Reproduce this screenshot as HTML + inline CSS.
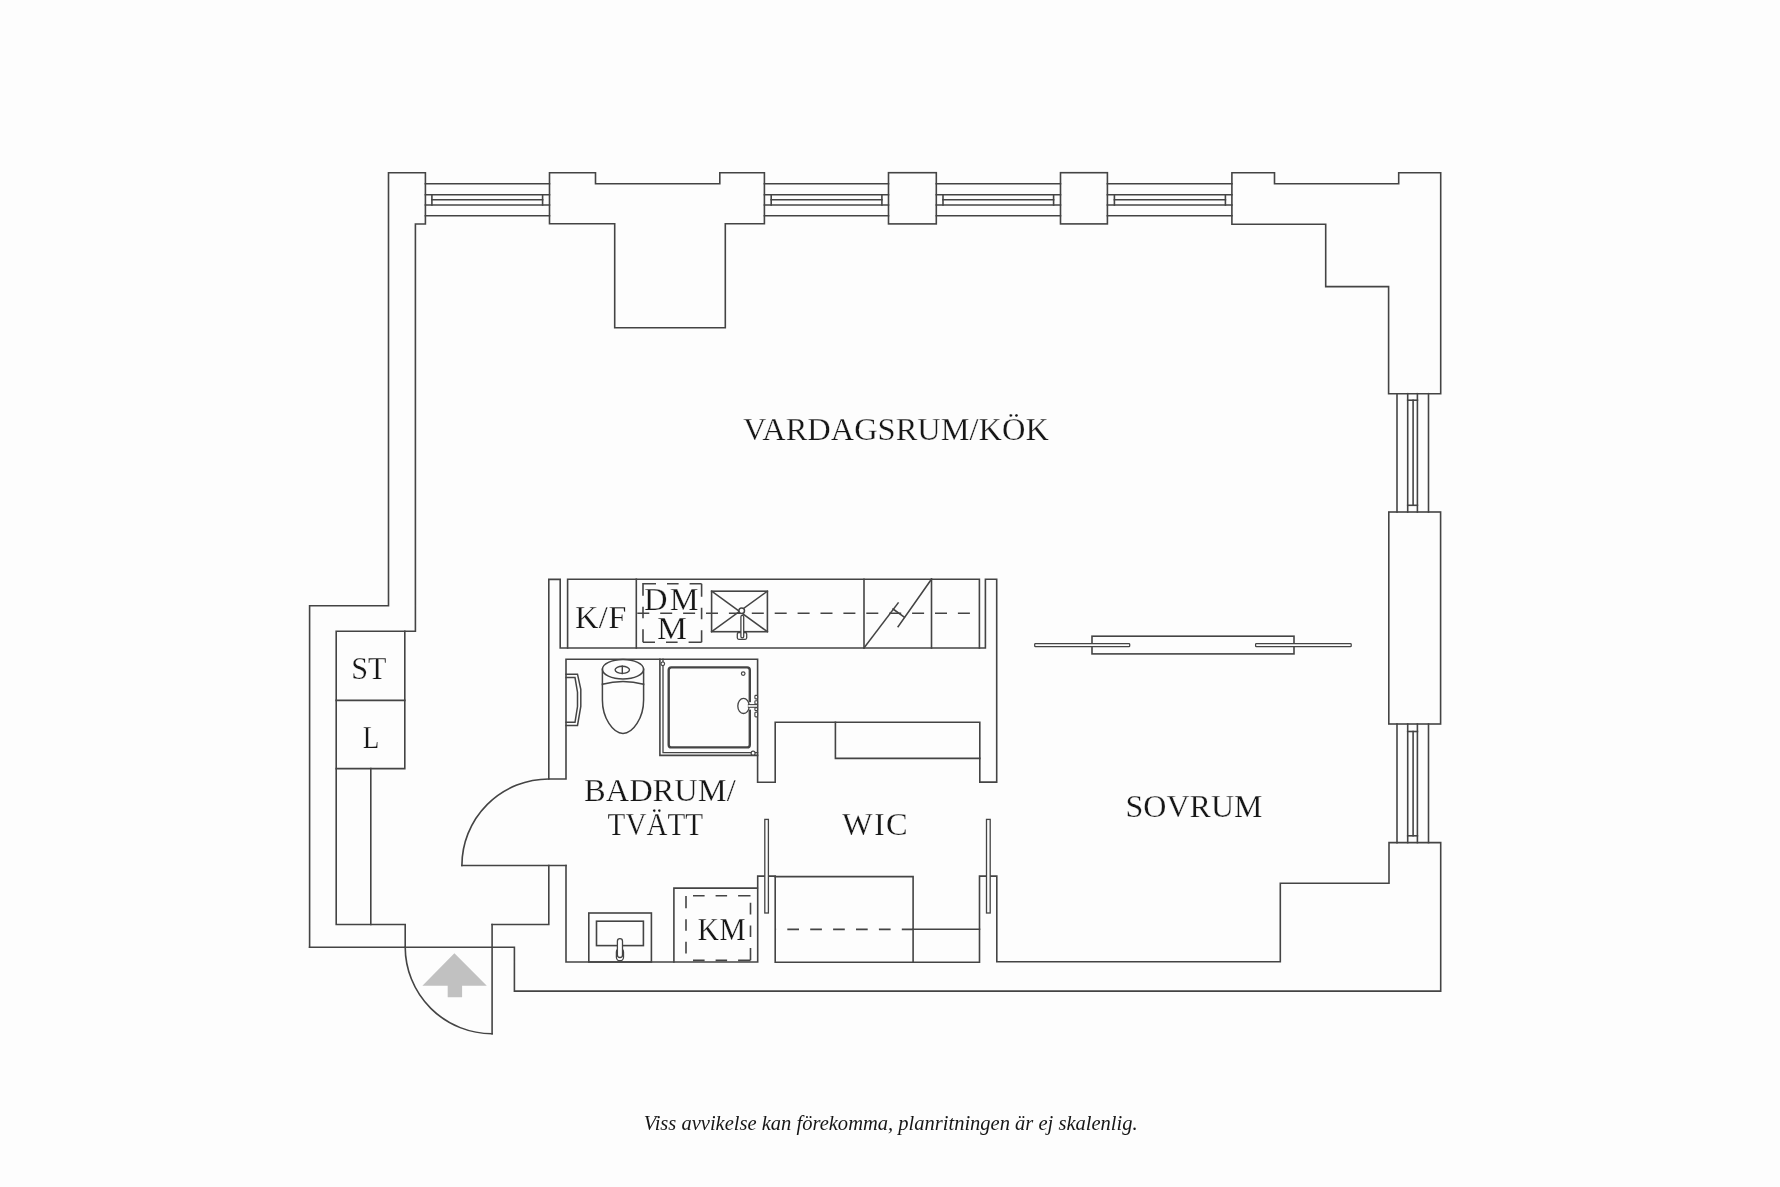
<!DOCTYPE html>
<html><head><meta charset="utf-8"><style>
html,body{margin:0;padding:0;background:#fdfdfd;}
svg{display:block;}
text{font-family:"Liberation Serif",serif;fill:#161616;stroke:#fdfdfd;stroke-width:0.25px;}
.tg{will-change:transform;}
</style></head><body>
<svg width="1780" height="1187" viewBox="0 0 1780 1187">
<rect x="0" y="0" width="1780" height="1187" fill="#fdfdfd"/>
<g stroke-linecap="square" stroke-linejoin="miter">
<path d="M405.2,947.2 L405.2,924.5 L336.2,924.5 L336.2,631.3 L415.4,631.3 L415.4,224.0 L425.4,224.0 L425.4,172.7 L388.5,172.7 L388.5,605.7 L309.6,605.7 L309.6,947.2" fill="none" stroke="#444" stroke-width="1.6" />
<line x1="336.2" y1="700.4" x2="404.8" y2="700.4" stroke="#444" stroke-width="1.6" />
<path d="M336.2,768.6 L404.8,768.6 L404.8,631.3" fill="none" stroke="#444" stroke-width="1.6" />
<line x1="370.8" y1="768.6" x2="370.8" y2="924.5" stroke="#444" stroke-width="1.6" />
<path d="M549.5,172.7 L595.5,172.7 L595.5,183.8 L719.8,183.8 L719.8,172.7 L764.4,172.7 L764.4,223.8 L725.3,223.8 L725.3,327.7 L614.7,327.7 L614.7,223.8 L549.5,223.8 Z" fill="none" stroke="#444" stroke-width="1.6" />
<rect x="888.5" y="172.7" width="47.80" height="51.20" rx="0" fill="none" stroke="#444" stroke-width="1.6" />
<rect x="1060.5" y="172.7" width="46.90" height="51.20" rx="0" fill="none" stroke="#444" stroke-width="1.6" />
<path d="M1231.9,172.7 L1274.5,172.7 L1274.5,183.8 L1398.7,183.8 L1398.7,172.7 L1440.7,172.7 L1440.7,393.7 L1388.6,393.7 L1388.6,286.6 L1325.7,286.6 L1325.7,224.2 L1231.9,224.2 Z" fill="none" stroke="#444" stroke-width="1.6" />
<line x1="425.4" y1="183.8" x2="549.5" y2="183.8" stroke="#444" stroke-width="1.6" />
<line x1="425.4" y1="215.8" x2="549.5" y2="215.8" stroke="#444" stroke-width="1.6" />
<line x1="425.4" y1="194.8" x2="549.5" y2="194.8" stroke="#444" stroke-width="1.6" />
<line x1="425.4" y1="205.0" x2="549.5" y2="205.0" stroke="#444" stroke-width="1.6" />
<line x1="431.9" y1="199.7" x2="542.6" y2="199.7" stroke="#444" stroke-width="1.6" />
<line x1="431.9" y1="194.8" x2="431.9" y2="205.0" stroke="#444" stroke-width="1.6" />
<line x1="542.6" y1="194.8" x2="542.6" y2="205.0" stroke="#444" stroke-width="1.6" />
<line x1="764.4" y1="183.8" x2="888.5" y2="183.8" stroke="#444" stroke-width="1.6" />
<line x1="764.4" y1="215.8" x2="888.5" y2="215.8" stroke="#444" stroke-width="1.6" />
<line x1="764.4" y1="194.8" x2="888.5" y2="194.8" stroke="#444" stroke-width="1.6" />
<line x1="764.4" y1="205.0" x2="888.5" y2="205.0" stroke="#444" stroke-width="1.6" />
<line x1="771.2" y1="199.7" x2="881.9" y2="199.7" stroke="#444" stroke-width="1.6" />
<line x1="771.2" y1="194.8" x2="771.2" y2="205.0" stroke="#444" stroke-width="1.6" />
<line x1="881.9" y1="194.8" x2="881.9" y2="205.0" stroke="#444" stroke-width="1.6" />
<line x1="936.3" y1="183.8" x2="1060.5" y2="183.8" stroke="#444" stroke-width="1.6" />
<line x1="936.3" y1="215.8" x2="1060.5" y2="215.8" stroke="#444" stroke-width="1.6" />
<line x1="936.3" y1="194.8" x2="1060.5" y2="194.8" stroke="#444" stroke-width="1.6" />
<line x1="936.3" y1="205.0" x2="1060.5" y2="205.0" stroke="#444" stroke-width="1.6" />
<line x1="943.0" y1="199.7" x2="1053.6" y2="199.7" stroke="#444" stroke-width="1.6" />
<line x1="943.0" y1="194.8" x2="943.0" y2="205.0" stroke="#444" stroke-width="1.6" />
<line x1="1053.6" y1="194.8" x2="1053.6" y2="205.0" stroke="#444" stroke-width="1.6" />
<line x1="1107.4" y1="183.8" x2="1231.9" y2="183.8" stroke="#444" stroke-width="1.6" />
<line x1="1107.4" y1="215.8" x2="1231.9" y2="215.8" stroke="#444" stroke-width="1.6" />
<line x1="1107.4" y1="194.8" x2="1231.9" y2="194.8" stroke="#444" stroke-width="1.6" />
<line x1="1107.4" y1="205.0" x2="1231.9" y2="205.0" stroke="#444" stroke-width="1.6" />
<line x1="1114.4" y1="199.7" x2="1225.4" y2="199.7" stroke="#444" stroke-width="1.6" />
<line x1="1114.4" y1="194.8" x2="1114.4" y2="205.0" stroke="#444" stroke-width="1.6" />
<line x1="1225.4" y1="194.8" x2="1225.4" y2="205.0" stroke="#444" stroke-width="1.6" />
<line x1="1397.0" y1="393.7" x2="1397.0" y2="512.0" stroke="#444" stroke-width="1.6" />
<line x1="1428.5" y1="393.7" x2="1428.5" y2="512.0" stroke="#444" stroke-width="1.6" />
<line x1="1407.7" y1="393.7" x2="1407.7" y2="512.0" stroke="#444" stroke-width="1.6" />
<line x1="1417.4" y1="393.7" x2="1417.4" y2="512.0" stroke="#444" stroke-width="1.6" />
<line x1="1413.1" y1="400.2" x2="1413.1" y2="505.3" stroke="#444" stroke-width="1.6" />
<line x1="1407.7" y1="400.2" x2="1417.4" y2="400.2" stroke="#444" stroke-width="1.6" />
<line x1="1407.7" y1="505.3" x2="1417.4" y2="505.3" stroke="#444" stroke-width="1.6" />
<line x1="1397.0" y1="724.0" x2="1397.0" y2="842.6" stroke="#444" stroke-width="1.6" />
<line x1="1428.5" y1="724.0" x2="1428.5" y2="842.6" stroke="#444" stroke-width="1.6" />
<line x1="1407.7" y1="724.0" x2="1407.7" y2="842.6" stroke="#444" stroke-width="1.6" />
<line x1="1417.4" y1="724.0" x2="1417.4" y2="842.6" stroke="#444" stroke-width="1.6" />
<line x1="1413.1" y1="731.5" x2="1413.1" y2="835.8" stroke="#444" stroke-width="1.6" />
<line x1="1407.7" y1="731.5" x2="1417.4" y2="731.5" stroke="#444" stroke-width="1.6" />
<line x1="1407.7" y1="835.8" x2="1417.4" y2="835.8" stroke="#444" stroke-width="1.6" />
<rect x="1388.8" y="512.0" width="51.80" height="212.00" rx="0" fill="none" stroke="#444" stroke-width="1.6" />
<path d="M309.6,947.2 L514.4,947.2 L514.4,991.1 L1440.7,991.1 L1440.7,842.6 L1389.0,842.6 L1389.0,883.3 L1280.3,883.3 L1280.3,961.8 L996.8,961.8 L996.8,876.1 L979.5,876.1 L979.5,962.2 L775.2,962.2 L775.2,876.1 L757.7,876.1 L757.7,962.0 L566.0,962.0 L566.0,865.5" fill="none" stroke="#444" stroke-width="1.6" />
<path d="M548.8,865.5 L548.8,924.5 L492.1,924.5" fill="none" stroke="#444" stroke-width="1.6" />
<line x1="492.1" y1="924.5" x2="492.1" y2="1033.7" stroke="#444" stroke-width="1.6" />
<path d="M405.2,947.2 A86.9,86.9 0 0 0 492.1,1033.7" fill="none" stroke="#444" stroke-width="1.6" />
<line x1="461.9" y1="865.5" x2="566.0" y2="865.5" stroke="#444" stroke-width="1.6" />
<path d="M548.8,779.0 A86.9,86.5 0 0 0 461.9,865.5" fill="none" stroke="#444" stroke-width="1.6" />
<path d="M548.8,779.0 L548.8,579.4 L560.2,579.4 L560.2,648.0 L985.4,648.0 L985.4,579.2 L996.7,579.2 L996.7,782.1 L979.8,782.1 L979.8,722.3 L775.2,722.3 L775.2,782.3 L757.6,782.3 L757.6,659.2 L566.0,659.2 L566.0,779.0 L548.8,779.0" fill="none" stroke="#444" stroke-width="1.6" />
<path d="M567.6,648.0 L567.6,579.2 L979.4,579.2 L979.4,648.0" fill="none" stroke="#444" stroke-width="1.6" />
<line x1="636.3" y1="579.2" x2="636.3" y2="648.0" stroke="#444" stroke-width="1.6" />
<line x1="864.0" y1="579.2" x2="864.0" y2="648.0" stroke="#444" stroke-width="1.6" />
<line x1="931.5" y1="579.2" x2="931.5" y2="648.0" stroke="#444" stroke-width="1.6" />
<path d="M864.0,648.0 L898.1,603.0" fill="none" stroke="#444" stroke-width="1.6" />
<path d="M898.1,626.6 L931.5,579.2" fill="none" stroke="#444" stroke-width="1.6" />
<path d="M893.0,609.0 L904.3,617.2" fill="none" stroke="#444" stroke-width="1.6" />
<line x1="637.3" y1="613.2" x2="975.0" y2="613.2" stroke="#444" stroke-width="1.6" stroke-dasharray="12 10.9" stroke-linecap="butt"/>
<path d="M643.0,583.7 L701.6,583.7 L701.6,642.3 L643.0,642.3 Z" fill="none" stroke="#444" stroke-width="1.6" stroke-dasharray="13 11 11.6 11 12 0" stroke-linecap="butt"/>
<rect x="711.6" y="591.2" width="55.80" height="40.50" rx="0" fill="none" stroke="#444" stroke-width="1.6" />
<line x1="711.6" y1="591.2" x2="767.4" y2="631.7" stroke="#444" stroke-width="1.5" />
<line x1="767.4" y1="591.2" x2="711.6" y2="631.7" stroke="#444" stroke-width="1.5" />
<circle cx="741.7" cy="610.8" r="2.8" fill="#fff" stroke="#444" stroke-width="1.5"/>
<rect x="737.3" y="632.5" width="9.40" height="6.80" rx="1.5" fill="none" stroke="#444" stroke-width="1.3" />
<rect x="740.9" y="615.3" width="2.8" height="22.5" rx="1.4" fill="#fff" stroke="#444" stroke-width="1.3"/>
<path d="M835.4,722.3 L835.4,758.4 L979.8,758.4" fill="none" stroke="#444" stroke-width="1.6" />
<path d="M775.2,876.6 L913.1,876.6 L913.1,962.2" fill="none" stroke="#444" stroke-width="1.6" />
<line x1="775.2" y1="929.4" x2="913.1" y2="929.4" stroke="#444" stroke-width="1.6" stroke-dasharray="11.7 11.2" stroke-dashoffset="10.8" stroke-linecap="butt"/>
<line x1="913.1" y1="929.2" x2="979.5" y2="929.2" stroke="#444" stroke-width="1.6" />
<rect x="764.8" y="819.4" width="3.6" height="93.6" fill="#fdfdfd" stroke="#444" stroke-width="1.3"/>
<rect x="986.5" y="819.4" width="3.7" height="93.6" fill="#fdfdfd" stroke="#444" stroke-width="1.3"/>
<rect x="588.8" y="913.0" width="62.60" height="49.00" rx="0" fill="none" stroke="#444" stroke-width="1.6" />
<rect x="596.5" y="921.2" width="46.90" height="24.40" rx="0" fill="none" stroke="#444" stroke-width="1.6" />
<rect x="616.4" y="948.5" width="7.1" height="12.2" rx="3.5" fill="#fff" stroke="#444" stroke-width="1.3"/>
<rect x="617.4" y="938.7" width="5.1" height="18.8" rx="2.5" fill="#fff" stroke="#444" stroke-width="1.3"/>
<path d="M673.9,962.0 L673.9,888.1 L757.3,888.1" fill="none" stroke="#444" stroke-width="1.6" />
<line x1="686.0" y1="895.8" x2="750.5" y2="895.8" stroke="#444" stroke-width="1.6" stroke-dasharray="0 7 11.6 11 11.5 11 12.4 0" stroke-linecap="butt"/>
<line x1="686.0" y1="960.4" x2="750.5" y2="960.4" stroke="#444" stroke-width="1.6" stroke-dasharray="0 7 11.6 11 11.5 11 12.4 0" stroke-linecap="butt"/>
<line x1="750.5" y1="895.8" x2="750.5" y2="960.4" stroke="#444" stroke-width="1.6" stroke-dasharray="0 7 11.6 11 11.5 11 12.4 0" stroke-linecap="butt"/>
<line x1="686.0" y1="960.4" x2="686.0" y2="895.8" stroke="#444" stroke-width="1.6" stroke-dasharray="0 7 11.6 11 11.5 11 12.4 0" stroke-linecap="butt"/>
<path d="M659.9,659.2 L659.9,755.4 L757.6,755.4" fill="none" stroke="#444" stroke-width="1.6" />
<path d="M663.0,659.2 L663.0,752.7 L757.6,752.7" fill="none" stroke="#444" stroke-width="1.3" />
<rect x="668.7" y="667.4" width="81.10" height="80.00" rx="2.7" fill="none" stroke="#444" stroke-width="2.4" />
<circle cx="743.2" cy="673.6" r="1.8" fill="none" stroke="#444" stroke-width="1.2"/>
<rect x="748.2" y="702.2" width="3.2" height="7.4" fill="#fdfdfd" stroke="none"/>
<ellipse cx="743.5" cy="705.9" rx="5.7" ry="7.6" fill="#fdfdfd" stroke="#444" stroke-width="1.3"/>
<rect x="748.4" y="704.6" width="9.2" height="2.7" fill="#fdfdfd" stroke="#444" stroke-width="1.1"/>
<rect x="747.8" y="705.3" width="2" height="1.3" fill="#fdfdfd" stroke="none"/>
<rect x="754.9" y="695.4" width="2.7" height="3.5" rx="0.8" fill="#fdfdfd" stroke="#444" stroke-width="1.1"/>
<rect x="754.9" y="700.8" width="2.7" height="3.2" rx="0.8" fill="#fdfdfd" stroke="#444" stroke-width="1.1"/>
<rect x="754.9" y="707.6" width="2.7" height="3.0" rx="0.8" fill="#fdfdfd" stroke="#444" stroke-width="1.1"/>
<rect x="754.9" y="712.2" width="2.7" height="4.7" rx="0.8" fill="#fdfdfd" stroke="#444" stroke-width="1.1"/>
<circle cx="662.8" cy="663.8" r="1.8" fill="#fff" stroke="#444" stroke-width="1.2"/>
<circle cx="753.1" cy="753.2" r="2.0" fill="#fff" stroke="#444" stroke-width="1.2"/>
<path d="M566.1,674.2 L577.5,674.2 L580.8,689.4 L580.8,706.5 L577.5,725.5 L566.1,725.5" fill="none" stroke="#444" stroke-width="1.5" />
<path d="M566.1,677.5 L575.0,677.5 L577.5,692.2 L577.5,706.5 L575.0,722.3 L566.1,722.3" fill="none" stroke="#444" stroke-width="1.5" />
<path d="M602.4,669.3 L602.4,684.3 Q623,678.5 643.6,684.3 L643.6,669.3" fill="none" stroke="#444" stroke-width="1.5" />
<ellipse cx="623.0" cy="669.3" rx="20.6" ry="9.7" fill="none" stroke="#444" stroke-width="1.5"/>
<path d="M602.4,684.3 L602.4,700 C602.4,718 613,733.4 623,733.4 C633,733.4 643.6,718 643.6,700 L643.6,684.3" fill="none" stroke="#444" stroke-width="1.5" />
<ellipse cx="622.3" cy="669.8" rx="7.2" ry="3.6" fill="none" stroke="#444" stroke-width="1.4"/>
<line x1="622.3" y1="666.2" x2="622.3" y2="673.6" stroke="#444" stroke-width="1.4" />
<rect x="1092.0" y="636.2" width="202.00" height="17.70" rx="0" fill="none" stroke="#444" stroke-width="1.6" />
<rect x="1034.7" y="643.5" width="95" height="3.2" rx="0.8" fill="#fdfdfd" stroke="#444" stroke-width="1.25"/>
<rect x="1255.6" y="643.5" width="95.6" height="3.2" rx="0.8" fill="#fdfdfd" stroke="#444" stroke-width="1.25"/>
<path d="M454.4,953.3 L486.8,985.7 L462.1,985.7 L462.1,997.2 L447.7,997.2 L447.7,985.7 L422.4,985.7 Z" fill="#c1c1c1"/>
</g>
<g class="tg" opacity="0.999">
<text x="743.00" y="439.5" font-size="32.5" textLength="305.90" lengthAdjust="spacingAndGlyphs">VARDAGSRUM/KÖK</text>
<text x="1125.54" y="816.8" font-size="32.5" textLength="137.03" lengthAdjust="spacingAndGlyphs">SOVRUM</text>
<text x="842.00" y="835.3" font-size="32.5" textLength="65.69" lengthAdjust="spacing">WIC</text>
<text x="584.00" y="800.5" font-size="32.5" textLength="151.71" lengthAdjust="spacingAndGlyphs">BADRUM/</text>
<text x="607.61" y="834.9" font-size="32.5" textLength="95.35" lengthAdjust="spacingAndGlyphs">TVÄTT</text>
<text x="697.59" y="940.0" font-size="32.5" textLength="48.20" lengthAdjust="spacingAndGlyphs">KM</text>
<text x="351.15" y="679.3" font-size="32.5" textLength="35.24" lengthAdjust="spacingAndGlyphs">ST</text>
<text x="362.74" y="748.4" font-size="32.5" textLength="16.55" lengthAdjust="spacingAndGlyphs">L</text>
<text x="575.00" y="628.0" font-size="32.5" textLength="51.33" lengthAdjust="spacing">K/F</text>
<text x="644.00" y="609.8" font-size="32.5" textLength="54.58" lengthAdjust="spacing">DM</text>
<text x="657.01" y="639.2" font-size="32.5" textLength="30.04" lengthAdjust="spacingAndGlyphs">M</text>
<text x="643.64" y="1130.0" font-size="22" font-style="italic" textLength="493.97" lengthAdjust="spacingAndGlyphs" style="stroke:none">Viss avvikelse kan förekomma, planritningen är ej skalenlig.</text>
</g>
</svg>
</body></html>
